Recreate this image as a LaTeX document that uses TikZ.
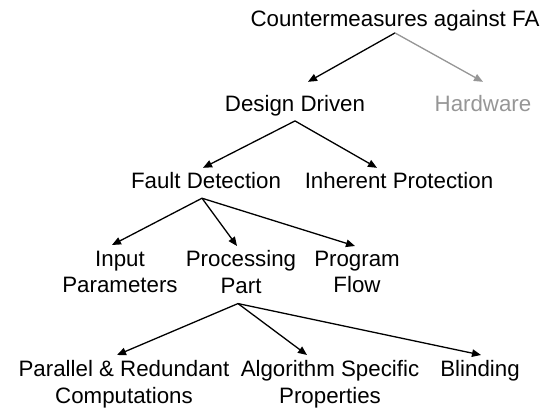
\documentclass[tikz,border=0pt]{standalone}
\usepackage{fontspec}
\setmainfont{Liberation Sans}
\usetikzlibrary{arrows.meta}
\definecolor{hwgray}{RGB}{150,150,150}
\begin{document}
\begin{tikzpicture}[x=1pt,y=-1pt,
  lbl/.style={inner sep=0pt,outer sep=0pt,font=\fontsize{22.3}{26.5}\selectfont,align=center},
  conn/.style={line width=1.3pt,-{Triangle[length=9pt,width=7.5pt]}},
  grayconn/.style={conn,draw=hwgray,fill=hwgray}]
\useasboundingbox (0,0) rectangle (551,409);
% level 0
\node[lbl,anchor=base] (root) at (395,27) {Countermeasures against FA};
% level 1
\node[lbl,anchor=base] (dd) at (295,112) {Design Driven};
\node[lbl,anchor=base,text=hwgray] (hw) at (483,112) {Hardware};
% level 2
\node[lbl,anchor=base] (fd) at (206,188) {Fault Detection};
\node[lbl,anchor=base] (ip) at (399,188) {Inherent Protection};
% level 3
\node[lbl,anchor=north] (inp) at (120,250.7) {Input\\Parameters};
\node[lbl,anchor=north] (pp) at (241,250.7) {Processing\\Part};
\node[lbl,anchor=north] (pf) at (357,250.7) {Program\\Flow};
% level 4
\node[lbl,anchor=north] (par) at (124,360.7) {Parallel \& Redundant\\Computations};
\node[lbl,anchor=north] (alg) at (330,360.7) {Algorithm Specific\\Properties};
\node[lbl,anchor=north] (bl) at (480,360.7) {Blinding};
% connectors
\draw[conn] ([shift={(0,1.3)}]root.south) -- ([shift={(13,-14)}]dd.north);
\draw[grayconn] ([shift={(0,1.3)}]root.south) -- ([shift={(0,-14)}]hw.north);
\draw[conn] ([shift={(0,4.3)}]dd.south) -- ([shift={(-3,-4)}]fd.north);
\draw[conn] ([shift={(0,4.3)}]dd.south) -- ([shift={(-22,-4)}]ip.north);
\draw[conn] ([shift={(-4,10)}]fd.south) -- ([shift={(-8,-5.7)}]inp.north);
\draw[conn] ([shift={(-4,10)}]fd.south) -- ([shift={(-4,-4.7)}]pp.north);
\draw[conn] ([shift={(-4,10)}]fd.south) -- ([shift={(-2,-4.7)}]pf.north);
\draw[conn] ([shift={(-3,10)}]pp.south) -- ([shift={(-7,-5.7)}]par.north);
\draw[conn] ([shift={(-3,10)}]pp.south) -- ([shift={(-23,-5.7)}]alg.north);
\draw[conn] ([shift={(-3,10)}]pp.south) -- ([shift={(1,-5.7)}]bl.north);
\end{tikzpicture}
\end{document}
